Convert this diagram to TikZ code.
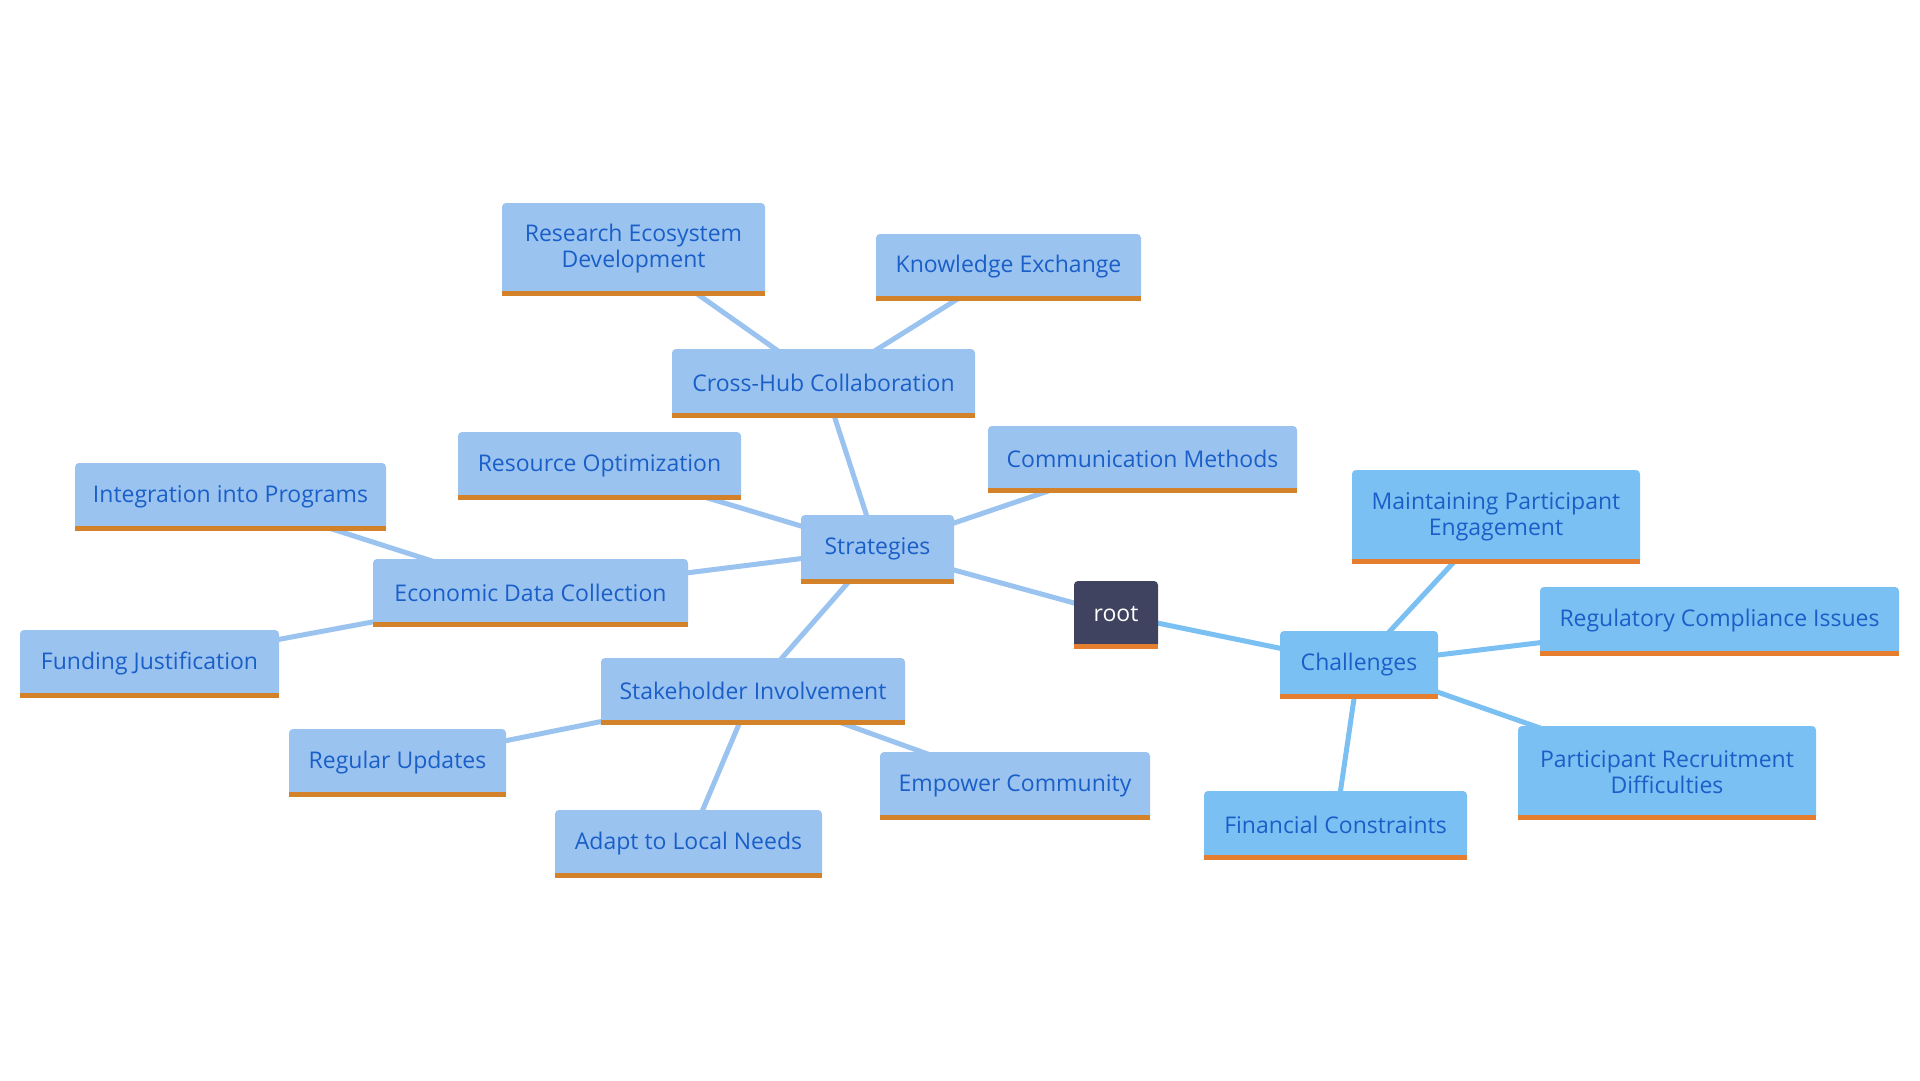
\documentclass[tikz,border=0pt]{standalone}
\usepackage{fontspec}
\setmainfont{Open Sans}
\usetikzlibrary{backgrounds}
\definecolor{sfill}{RGB}{155,195,240}
\definecolor{cfill}{RGB}{123,192,242}
\definecolor{sbar}{RGB}{212,130,42}
\definecolor{cbar}{RGB}{230,126,48}
\definecolor{rfill}{RGB}{64,67,96}
\definecolor{txt}{RGB}{26,95,200}
\tikzset{
  box/.style={rounded corners=4pt, inner sep=0pt, align=center, text=txt,
    font=\fontsize{23}{26}\selectfont},
  sbox/.style={box, fill=sfill},
  cbox/.style={box, fill=cfill},
  rbox/.style={box, fill=rfill, text=white},
  sedge/.style={draw=sfill, line width=5pt},
  cedge/.style={draw=cfill, line width=5pt},
}
% \bx{name}{style}{left}{top}{right}{bottom}{bar colour}{text}
\newcommand{\bx}[8]{%
  \node[#2, minimum width={#5-#3}, minimum height={#6-#4}] (#1) at ({(#3+#5)/2},{(#4+#6)/2-1}) {#8};
  \fill[#7] ([yshift=-1pt]#1.south west) rectangle ([yshift=4pt]#1.south east);
}
\begin{document}
\begin{tikzpicture}[x=1pt,y=-1pt]
\useasboundingbox (0,0) rectangle (1920,1080);
\bx{root}{rbox}{1074}{582}{1158}{649}{cbar}{root}
\bx{str}{sbox}{801}{516}{954}{584}{sbar}{Strategies}
\bx{cha}{cbox}{1280}{632}{1438}{699}{cbar}{Challenges}
\bx{chc}{sbox}{672}{350}{975}{418}{sbar}{Cross-Hub Collaboration}
\bx{red}{sbox}{502}{204}{765}{296}{sbar}{Research Ecosystem\\Development}
\bx{kex}{sbox}{876}{235}{1141}{301}{sbar}{Knowledge Exchange}
\bx{rop}{sbox}{458}{433}{741}{500}{sbar}{Resource Optimization}
\bx{com}{sbox}{988}{427}{1297}{493}{sbar}{Communication Methods}
\bx{edc}{sbox}{373}{560}{688}{627}{sbar}{Economic Data Collection}
\bx{iip}{sbox}{75}{464}{386}{531}{sbar}{Integration into Programs}
\bx{fju}{sbox}{20}{631}{279}{698}{sbar}{Funding Justification}
\bx{sti}{sbox}{601}{659}{905}{725}{sbar}{Stakeholder Involvement}
\bx{reg}{sbox}{289}{730}{506}{797}{sbar}{Regular Updates}
\bx{emp}{sbox}{880}{753}{1150}{820}{sbar}{Empower Community}
\bx{ada}{sbox}{555}{811}{822}{878}{sbar}{Adapt to Local Needs}
\bx{mpe}{cbox}{1352}{471}{1640}{564}{cbar}{Maintaining Participant\\Engagement}
\bx{rci}{cbox}{1540}{588}{1899}{656}{cbar}{Regulatory Compliance Issues}
\bx{prd}{cbox}{1518}{727}{1816}{820}{cbar}{Participant Recruitment\\Difficulties}
\bx{fic}{cbox}{1204}{792}{1467}{860}{cbar}{Financial Constraints}
\begin{scope}[on background layer]
  \fill[white] (0,0) rectangle (1920,1080);
  \draw[sedge] (root.center) -- (str.center);
  \draw[cedge] (root.center) -- (cha.center);
  \draw[sedge] (str.center) -- (chc.center);
  \draw[sedge] (chc.center) -- (red.center);
  \draw[sedge] (chc.center) -- (kex.center);
  \draw[sedge] (str.center) -- (rop.center);
  \draw[sedge] (str.center) -- (com.center);
  \draw[sedge] (str.center) -- (edc.center);
  \draw[sedge] (edc.center) -- (iip.center);
  \draw[sedge] (edc.center) -- (fju.center);
  \draw[sedge] (str.center) -- (sti.center);
  \draw[sedge] (sti.center) -- (reg.center);
  \draw[sedge] (sti.center) -- (emp.center);
  \draw[sedge] (sti.center) -- (ada.center);
  \draw[cedge] (cha.center) -- (mpe.center);
  \draw[cedge] (cha.center) -- (rci.center);
  \draw[cedge] (cha.center) -- (prd.center);
  \draw[cedge] (cha.center) -- (fic.center);
\end{scope}
\end{tikzpicture}
\end{document}
